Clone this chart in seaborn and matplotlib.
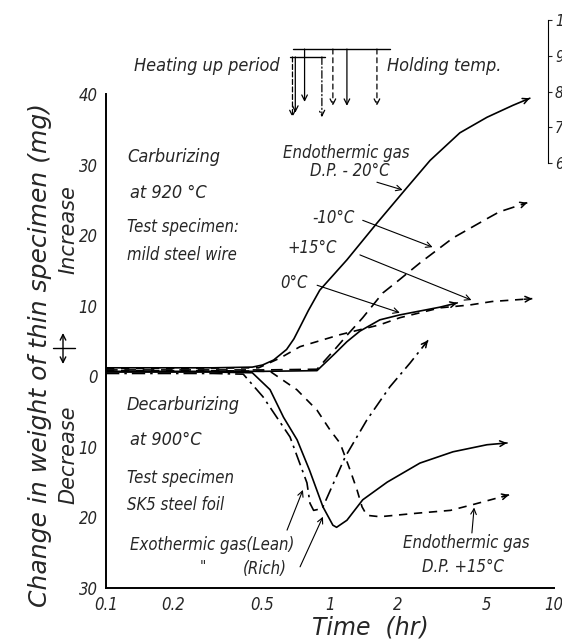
import matplotlib.pyplot as plt
from matplotlib.lines import Line2D
import pandas as pd
import seaborn as sns

# carburizing at 920 C, endothermic gas, dew points -20 / -10 / +15 / 0 C
t_dp_m20 = [0.1, 0.3, 0.45, 0.5, 0.56, 0.64, 0.69, 0.735, 0.80, 0.90, 1.19, 1.62, 2.16, 2.80, 3.80, 5.02, 6.56, 7.8]
w_dp_m20 = [1.2, 1.2, 1.3, 1.6, 2.3, 3.8, 5.3, 7.0, 9.3, 12.2, 16.5, 21.7, 26.4, 30.6, 34.5, 36.7, 38.4, 39.4]

t_dp_m10 = [0.1, 0.5, 0.875, 1.05, 1.19, 1.40, 1.72, 1.99, 2.53, 3.54, 5.0, 5.7, 7.6]
w_dp_m10 = [0.9, 0.9, 1.0, 3.8, 5.8, 8.3, 11.8, 13.4, 16.1, 19.6, 22.3, 23.3, 24.6]

t_dp_p15 = [0.1, 0.48, 0.6, 0.735, 1.11, 1.36, 1.67, 2.05, 3.1, 4.2, 5.3, 8.0]
w_dp_p15 = [1.1, 1.2, 2.6, 4.2, 5.9, 6.6, 7.3, 8.3, 9.7, 10.1, 10.6, 11.0]

t_dp_0 = [0.1, 0.5, 0.875, 1.05, 1.19, 1.36, 1.67, 2.05, 3.1, 3.7]
w_dp_0 = [0.7, 0.7, 0.8, 3.2, 4.9, 6.4, 8.0, 8.7, 9.8, 10.4]

# decarburizing at 900 C
t_rich = [0.1, 0.3, 0.45, 0.54, 0.62, 0.713, 0.81, 0.93, 1.03, 1.07, 1.19, 1.40, 1.80, 2.52, 3.54, 5.02, 6.17]
w_rich = [0.6, 0.6, 0.5, -1.9, -5.8, -9.0, -13.3, -18.5, -21.1, -21.4, -20.4, -17.5, -15.0, -12.3, -10.7, -9.7, -9.45]

t_lean = [0.1, 0.3, 0.41, 0.502, 0.663, 0.789, 0.814, 0.845, 0.875, 0.93, 1.17, 1.46, 1.85, 2.28, 2.74]
w_lean = [0.4, 0.4, 0.3, -2.9, -8.6, -15.1, -18.0, -19.0, -18.9, -18.5, -11.4, -6.2, -1.5, 1.9, 5.1]

t_endo = [0.1, 0.3, 0.54, 0.711, 0.875, 1.0, 1.11, 1.23, 1.32, 1.39, 1.46, 1.67, 2.45, 3.45, 4.32, 6.3]
w_endo = [0.8, 0.8, 0.7, -1.9, -4.8, -7.6, -9.5, -13.3, -16.1, -18.5, -19.7, -19.9, -19.4, -19.0, -18.2, -16.8]

# times where holding temperature is reached (arrows at the top)
heat_times = [0.68, 0.70, 0.77, 0.92, 1.03, 1.19, 1.62]

x_ticks = [0.1, 0.2, 0.5, 1, 2, 5, 10]
x_labels = ['0.1', '0.2', '0.5', '1', '2', '5', '10']
y_ticks = [40, 30, 20, 10, 0, -10, -20, -30]
y_labels = ['40', '30', '20', '10', '0', '10', '20', '30']
temp_ticks = [600, 700, 800, 900, 1000]

sns.set_style('white')
plt.rcParams['font.family'] = ['DejaVu Sans']
plt.rcParams['font.style'] = 'italic'
plt.rcParams['font.stretch'] = 'condensed'

W, H = 562, 642
fig = plt.figure(figsize=(W / 100, H / 100), dpi=100)
ax = fig.add_axes([106 / W, 1 - 588 / H, 448 / W, 494 / H])


def px(x, y):
    return (x / W, 1 - y / H)


def ftext(x, y, s, size=13, **kw):
    kw.setdefault('ha', 'left')
    fig.text(*px(x, y), s, fontsize=size, va='center', **kw)


curves = [
    (t_dp_m20, w_dp_m20, '-'),
    (t_dp_m10, w_dp_m10, (0, (7, 4))),
    (t_dp_p15, w_dp_p15, (0, (5, 4))),
    (t_dp_0, w_dp_0, '-'),
    (t_rich, w_rich, '-'),
    (t_lean, w_lean, (0, (8, 3, 1.5, 3))),
    (t_endo, w_endo, (0, (5, 4))),
]
for t, w, ls in curves:
    df = pd.DataFrame({'time': t, 'weight': w})
    sns.lineplot(data=df, x='time', y='weight', ax=ax, color='black', lw=1.2,
                 linestyle=ls, estimator=None, sort=False)
    # arrow head at the end of each curve
    tail = (t[-1] * (t[-2] / t[-1]) ** 0.2, w[-1] + (w[-2] - w[-1]) * 0.2)
    ax.annotate('', xy=(t[-1], w[-1]), xytext=tail,
                arrowprops=dict(arrowstyle='->', color='black', lw=1.1,
                                shrinkA=0, shrinkB=0))

ax.set_xscale('log')
ax.set_xlim(0.1, 10)
ax.set_ylim(-30, 40)
ax.set_xticks(x_ticks)
ax.set_xticklabels(x_labels)
ax.xaxis.set_minor_locator(plt.NullLocator())
ax.set_yticks(y_ticks)
ax.set_yticklabels(y_labels)
ax.set_yticks([35, 25, 15, 5, -5, -15, -25], minor=True)
ax.tick_params(axis='both', which='both', direction='in', length=4, width=1,
               labelsize=12, color='black', pad=6)
ax.set_xlabel('')
ax.set_ylabel('')
for s in ['top', 'right']:
    ax.spines[s].set_visible(False)
for s in ['left', 'bottom']:
    ax.spines[s].set_color('black')
    ax.spines[s].set_linewidth(1.4)

# leaders from labels to curves
leaders = [
    ((1.62, 27.5), (2.11, 26.4)),
    ((1.40, 22.1), (2.87, 18.3)),
    ((1.36, 17.2), (4.28, 10.8)),
    ((0.876, 12.9), (2.05, 9.0)),
    ((0.643, -21.8), (0.757, -16.1)),
    ((0.735, -27.0), (0.93, -19.9)),
    ((4.3, -22.2), (4.4, -18.6)),
]
for start, end in leaders:
    ax.annotate('', xy=end, xytext=start,
                arrowprops=dict(arrowstyle='->', color='black', lw=0.8,
                                shrinkA=0, shrinkB=0))

# heating-up / holding arrows above the plot
tr = ax.get_xaxis_transform()
ax.plot([0.684, 1.85], [1.091, 1.091], color='black', lw=1, transform=tr, clip_on=False)
ax.plot([0.66, 0.95], [1.075, 1.075], color='black', lw=1, transform=tr, clip_on=False)
heat_style = [(0, (4, 2)), '-', '-', (0, (6, 2, 1, 2)), (0, (4, 3)), '-', (0, (4, 3))]
heat_top = [1.075, 1.075, 1.091, 1.075, 1.091, 1.091, 1.091]
heat_bot = [0.953, 0.962, 0.984, 0.953, 0.976, 0.976, 0.976]
for ht, ls, y0, y1 in zip(heat_times, heat_style, heat_top, heat_bot):
    ax.annotate('', xy=(ht, y1), xytext=(ht, y0), xycoords=tr, textcoords=tr,
                arrowprops=dict(arrowstyle='->', color='black', lw=0.9,
                                linestyle=ls, shrinkA=0, shrinkB=0))

# temperature scale at the top right (cut by the page edge, as in the scan)
ax_t = fig.add_axes([548 / W, 1 - 163 / H, 0.0001, 143 / H])
ax_t.set_ylim(600, 1000)
ax_t.set_yticks(temp_ticks)
ax_t.set_yticklabels([str(v) for v in temp_ticks])
ax_t.yaxis.tick_right()
ax_t.set_xticks([])
ax_t.tick_params(axis='y', direction='out', length=3, labelsize=11, pad=2)
for s in ['top', 'right', 'bottom']:
    ax_t.spines[s].set_visible(False)
ax_t.spines['left'].set_color('black')

# texts
ftext(280, 66, 'Heating up period', ha='right')
ftext(387, 66, 'Holding temp.')
ftext(127, 157, 'Carburizing')
ftext(130, 193, 'at 920 °C')
ftext(127, 227, 'Test specimen:', size=12)
ftext(127, 255, 'mild steel wire', size=12)
ftext(283, 153, 'Endothermic gas', size=12)
ftext(310, 171, 'D.P. - 20°C', size=12)
ftext(312, 218, '-10°C', size=12)
ftext(287, 248, '+15°C', size=12)
ftext(280, 283, '0°C', size=12)
ftext(127, 405, 'Decarburizing')
ftext(130, 440, 'at 900°C')
ftext(127, 478, 'Test specimen', size=12)
ftext(127, 505, 'SK5 steel foil', size=12)
ftext(130, 545, 'Exothermic gas(Lean)', size=12)
ftext(200, 568, '"', size=11)
ftext(243, 569, '(Rich)', size=12)
ftext(403, 543, 'Endothermic gas', size=12)
ftext(422, 567, 'D.P. +15°C', size=12)

fig.text(*px(40, 355), 'Change in weight of thin specimen (mg)', rotation=90,
         fontsize=18, ha='center', va='center', fontstretch='normal')
fig.text(*px(68, 230), 'Increase', rotation=90, fontsize=15, ha='center', va='center',
         fontstretch='normal')
fig.text(*px(68, 455), 'Decrease', rotation=90, fontsize=15, ha='center', va='center',
         fontstretch='normal')
fig.text(*px(370, 628), 'Time  (hr)', fontsize=17, ha='center', va='center',
         fontstretch='normal')

# +/- sign next to zero
ax.annotate('', xy=px(63, 333), xytext=px(63, 364), xycoords='figure fraction',
            textcoords='figure fraction',
            arrowprops=dict(arrowstyle='<->', color='black', lw=1, shrinkA=0, shrinkB=0))
fig.add_artist(Line2D([53 / W, 75 / W], [1 - 348 / H, 1 - 348 / H], color='black', lw=1))

fig.savefig('out.png', dpi=100)
